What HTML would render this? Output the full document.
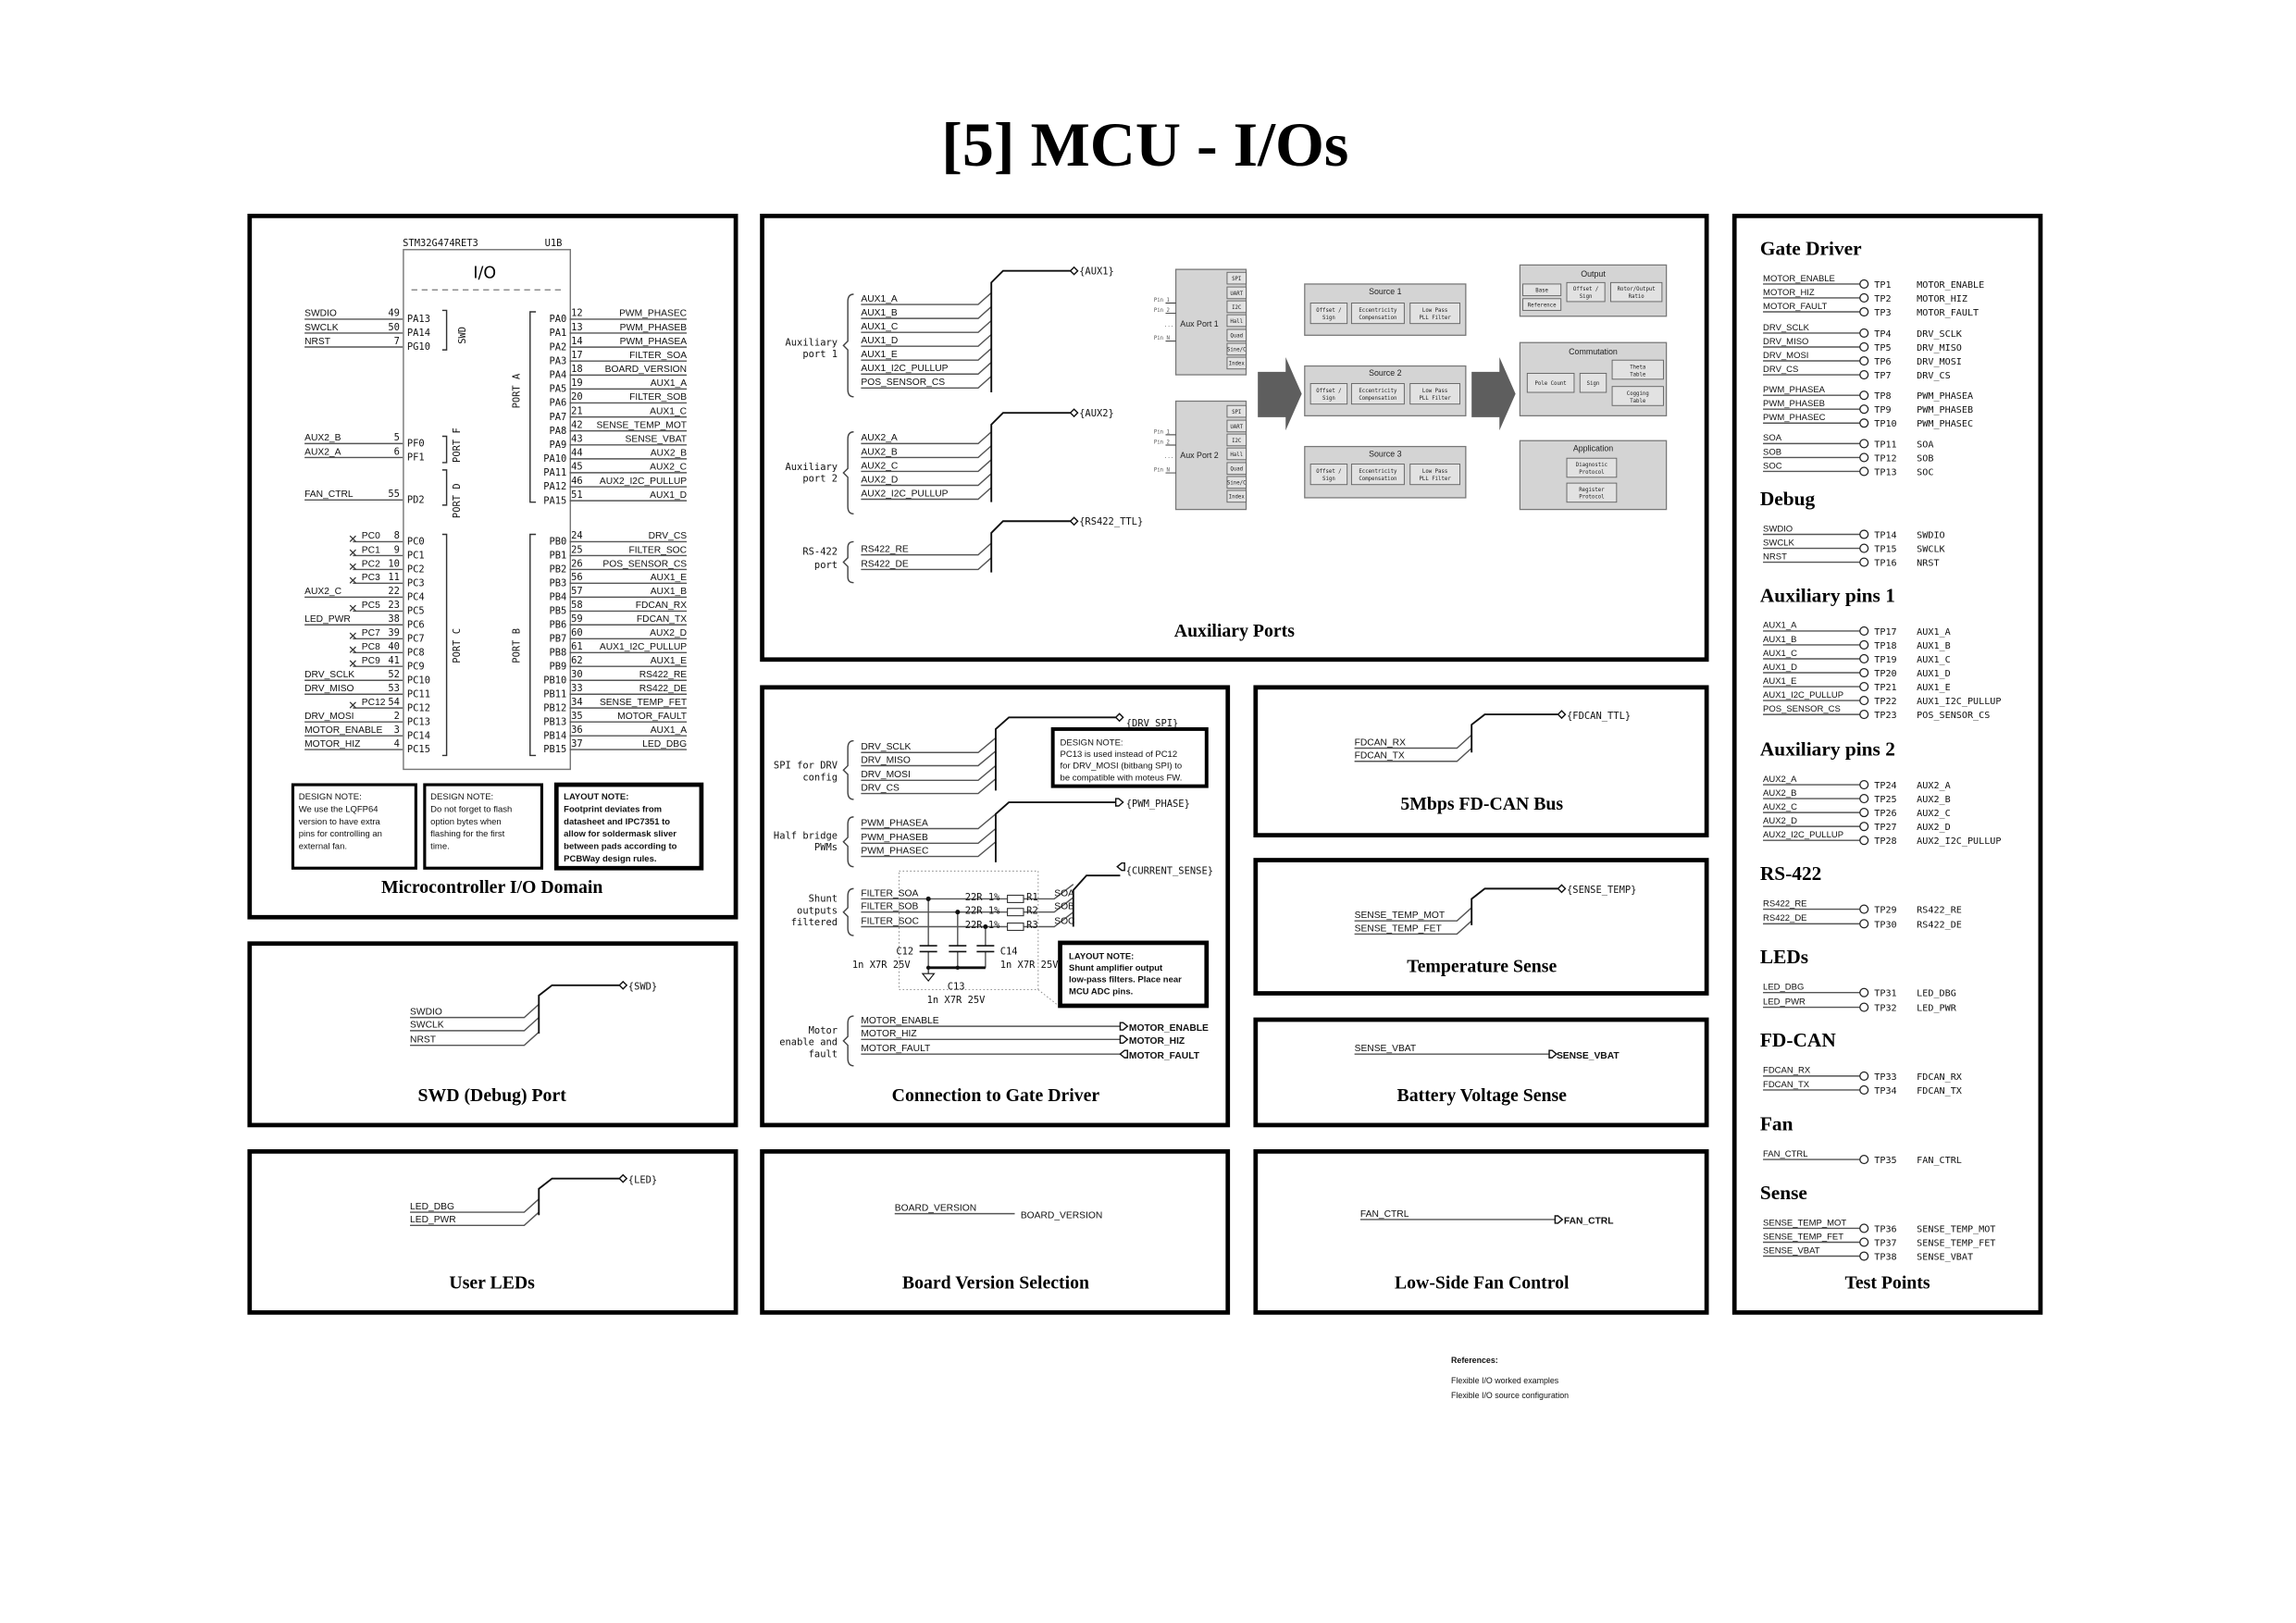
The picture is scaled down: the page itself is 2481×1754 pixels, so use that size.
<!DOCTYPE html>
<html><head><meta charset="utf-8"><style>
html,body{margin:0;padding:0;background:#fff}
svg{display:block}
.s{font-family:"Liberation Sans",sans-serif;font-size:6.5px;fill:#111}
.m{font-family:"DejaVu Sans Mono","Liberation Mono",monospace;font-size:6.6px;fill:#111}
.t{font-family:"Liberation Serif",serif;font-weight:bold;font-size:12.5px;fill:#000}
.h{font-family:"Liberation Serif",serif;font-weight:bold;font-size:13.5px;fill:#000}
.b{fill:none;stroke:#000;stroke-width:3}
.w{fill:none;stroke:#555;stroke-width:0.9}
.k{fill:none;stroke:#111;stroke-width:1.2}
.g{fill:#d4d4d4;stroke:#777;stroke-width:0.8}
.gb{fill:#e2e2e2;stroke:#666;stroke-width:0.6}
.tiny{font-family:"DejaVu Sans Mono",monospace;font-size:3.6px;fill:#222}
.ts{font-family:"Liberation Sans",sans-serif;font-size:5.6px;fill:#222}
.e{text-anchor:end}.c{text-anchor:middle}
</style></head><body>
<svg width="2481" height="1754" viewBox="0 0 1568 1108.6" preserveAspectRatio="none" xmlns="http://www.w3.org/2000/svg">
<rect width="1568" height="1109" fill="#fff"/>
<text x="782" y="113" class="c" style="font-family:'Liberation Serif',serif;font-weight:bold;font-size:43px">[5] MCU - I/Os</text>

<!-- boxes -->
<rect class="b" x="170.5" y="147.5" width="332" height="479"/>
<rect class="b" x="520.5" y="147.5" width="645" height="303"/>
<rect class="b" x="520.5" y="469.5" width="318" height="299"/>
<rect class="b" x="857.5" y="469.5" width="308" height="101"/>
<rect class="b" x="857.5" y="587.5" width="308" height="91"/>
<rect class="b" x="857.5" y="696.5" width="308" height="72"/>
<rect class="b" x="170.5" y="644.5" width="332" height="124"/>
<rect class="b" x="170.5" y="786.5" width="332" height="110"/>
<rect class="b" x="520.5" y="786.5" width="318" height="110"/>
<rect class="b" x="857.5" y="786.5" width="308" height="110"/>
<rect class="b" x="1184.5" y="147.5" width="209" height="749"/>

<!-- MCU -->
<text x="275" y="168" class="m">STM32G474RET3</text><text x="372" y="168" class="m">U1B</text>
<rect x="275.5" y="170.5" width="114" height="355" fill="none" stroke="#777" stroke-width="0.9"/>
<text x="331" y="190" class="c" style="font-family:'DejaVu Sans',sans-serif;font-size:11px">I/O</text>
<line x1="281" y1="198" x2="385" y2="198" stroke="#777" stroke-width="0.8" stroke-dasharray="4,3"/>
<g class="w">
<path d="M208 218H275M208 227.5H275M208 237H275M208 303H275M208 312.5H275M208 341.5H275"/>
<path d="M241 370H275M241 379.5H275M241 389H275M241 398.4H275M208 407.9H275M241 417.4H275M208 426.8H275M241 436.3H275M241 445.8H275M241 455.2H275M208 464.7H275M208 474.2H275M241 483.6H275M208 493.1H275M208 502.6H275M208 512H275"/>
<path d="M389 218H469M389 227.5H469M389 237.1H469M389 246.6H469M389 256.2H469M389 265.7H469M389 275.2H469M389 284.8H469M389 294.3H469M389 303.9H469M389 313.4H469M389 322.9H469M389 332.5H469M389 342H469"/>
<path d="M389 370H469M389 379.5H469M389 389H469M389 398.4H469M389 407.9H469M389 417.4H469M389 426.8H469M389 436.3H469M389 445.8H469M389 455.2H469M389 464.7H469M389 474.2H469M389 483.6H469M389 493.1H469M389 502.6H469M389 512H469"/>
<path d="M302 212H305V239H302M302 298H305V316H302M302 321H305V345H302M302 365H305V516H302M366 213H362V343H366M366 365H362V516H366" stroke="#333"/>
</g>
<g stroke="#333" stroke-width="0.8">
<path d="M239 366l4 4m0-4l-4 4M239 375.5l4 4m0-4l-4 4M239 385l4 4m0-4l-4 4M239 394.4l4 4m0-4l-4 4M239 413.4l4 4m0-4l-4 4M239 432.3l4 4m0-4l-4 4M239 441.8l4 4m0-4l-4 4M239 451.2l4 4m0-4l-4 4M239 479.6l4 4m0-4l-4 4"/>
</g>
<g class="m" transform="rotate(-90)">
<text x="-235" y="318">SWD</text><text x="-279" y="355">PORT A</text><text x="-316" y="314">PORT F</text><text x="-354" y="314">PORT D</text><text x="-453" y="314">PORT C</text><text x="-453" y="355">PORT B</text>
</g>
<g class="s">
<text x="208" y="216">SWDIO</text><text x="208" y="225.5">SWCLK</text><text x="208" y="235">NRST</text>
<text x="208" y="301">AUX2_B</text><text x="208" y="310.5">AUX2_A</text><text x="208" y="339.5">FAN_CTRL</text>
<text x="247" y="368">PC0</text><text x="247" y="377.5">PC1</text><text x="247" y="387">PC2</text><text x="247" y="396.4">PC3</text>
<text x="208" y="405.9">AUX2_C</text><text x="247" y="415.4">PC5</text><text x="208" y="424.8">LED_PWR</text>
<text x="247" y="434.3">PC7</text><text x="247" y="443.8">PC8</text><text x="247" y="453.2">PC9</text>
<text x="208" y="462.7">DRV_SCLK</text><text x="208" y="472.2">DRV_MISO</text><text x="247" y="481.6">PC12</text>
<text x="208" y="491.1">DRV_MOSI</text><text x="208" y="500.6">MOTOR_ENABLE</text><text x="208" y="510">MOTOR_HIZ</text>
</g>
<g class="s e">
<text x="469" y="216">PWM_PHASEC</text><text x="469" y="225.5">PWM_PHASEB</text><text x="469" y="235.1">PWM_PHASEA</text><text x="469" y="244.6">FILTER_SOA</text><text x="469" y="254.2">BOARD_VERSION</text><text x="469" y="263.7">AUX1_A</text><text x="469" y="273.2">FILTER_SOB</text><text x="469" y="282.8">AUX1_C</text><text x="469" y="292.3">SENSE_TEMP_MOT</text><text x="469" y="301.9">SENSE_VBAT</text><text x="469" y="311.4">AUX2_B</text><text x="469" y="320.9">AUX2_C</text><text x="469" y="330.5">AUX2_I2C_PULLUP</text><text x="469" y="340">AUX1_D</text>
<text x="469" y="368">DRV_CS</text><text x="469" y="377.5">FILTER_SOC</text><text x="469" y="387">POS_SENSOR_CS</text><text x="469" y="396.4">AUX1_E</text><text x="469" y="405.9">AUX1_B</text><text x="469" y="415.4">FDCAN_RX</text><text x="469" y="424.8">FDCAN_TX</text><text x="469" y="434.3">AUX2_D</text><text x="469" y="443.8">AUX1_I2C_PULLUP</text><text x="469" y="453.2">AUX1_E</text><text x="469" y="462.7">RS422_RE</text><text x="469" y="472.2">RS422_DE</text><text x="469" y="481.6">SENSE_TEMP_FET</text><text x="469" y="491.1">MOTOR_FAULT</text><text x="469" y="500.6">AUX1_A</text><text x="469" y="510">LED_DBG</text>
</g>
<g class="m e">
<text x="273" y="216">49</text><text x="273" y="225.5">50</text><text x="273" y="235">7</text><text x="273" y="301">5</text><text x="273" y="310.5">6</text><text x="273" y="339.5">55</text>
<text x="273" y="368">8</text><text x="273" y="377.5">9</text><text x="273" y="387">10</text><text x="273" y="396.4">11</text><text x="273" y="405.9">22</text><text x="273" y="415.4">23</text><text x="273" y="424.8">38</text><text x="273" y="434.3">39</text><text x="273" y="443.8">40</text><text x="273" y="453.2">41</text><text x="273" y="462.7">52</text><text x="273" y="472.2">53</text><text x="273" y="481.6">54</text><text x="273" y="491.1">2</text><text x="273" y="500.6">3</text><text x="273" y="510">4</text>
<text x="387" y="220">PA0</text><text x="387" y="229.5">PA1</text><text x="387" y="239.1">PA2</text><text x="387" y="248.6">PA3</text><text x="387" y="258.2">PA4</text><text x="387" y="267.7">PA5</text><text x="387" y="277.2">PA6</text><text x="387" y="286.8">PA7</text><text x="387" y="296.3">PA8</text><text x="387" y="305.9">PA9</text><text x="387" y="315.4">PA10</text><text x="387" y="324.9">PA11</text><text x="387" y="334.5">PA12</text><text x="387" y="344">PA15</text>
<text x="387" y="372">PB0</text><text x="387" y="381.5">PB1</text><text x="387" y="391">PB2</text><text x="387" y="400.4">PB3</text><text x="387" y="409.9">PB4</text><text x="387" y="419.4">PB5</text><text x="387" y="428.8">PB6</text><text x="387" y="438.3">PB7</text><text x="387" y="447.8">PB8</text><text x="387" y="457.2">PB9</text><text x="387" y="466.7">PB10</text><text x="387" y="476.2">PB11</text><text x="387" y="485.6">PB12</text><text x="387" y="495.1">PB13</text><text x="387" y="504.6">PB14</text><text x="387" y="514">PB15</text>
</g>
<g class="m">
<text x="278" y="220">PA13</text><text x="278" y="229.5">PA14</text><text x="278" y="239">PG10</text><text x="278" y="305">PF0</text><text x="278" y="314.5">PF1</text><text x="278" y="343.5">PD2</text>
<text x="278" y="372">PC0</text><text x="278" y="381.5">PC1</text><text x="278" y="391">PC2</text><text x="278" y="400.4">PC3</text><text x="278" y="409.9">PC4</text><text x="278" y="419.4">PC5</text><text x="278" y="428.8">PC6</text><text x="278" y="438.3">PC7</text><text x="278" y="447.8">PC8</text><text x="278" y="457.2">PC9</text><text x="278" y="466.7">PC10</text><text x="278" y="476.2">PC11</text><text x="278" y="485.6">PC12</text><text x="278" y="495.1">PC13</text><text x="278" y="504.6">PC14</text><text x="278" y="514">PC15</text>
<text x="390" y="216">12</text><text x="390" y="225.5">13</text><text x="390" y="235.1">14</text><text x="390" y="244.6">17</text><text x="390" y="254.2">18</text><text x="390" y="263.7">19</text><text x="390" y="273.2">20</text><text x="390" y="282.8">21</text><text x="390" y="292.3">42</text><text x="390" y="301.9">43</text><text x="390" y="311.4">44</text><text x="390" y="320.9">45</text><text x="390" y="330.5">46</text><text x="390" y="340">51</text>
<text x="390" y="368">24</text><text x="390" y="377.5">25</text><text x="390" y="387">26</text><text x="390" y="396.4">56</text><text x="390" y="405.9">57</text><text x="390" y="415.4">58</text><text x="390" y="424.8">59</text><text x="390" y="434.3">60</text><text x="390" y="443.8">61</text><text x="390" y="453.2">62</text><text x="390" y="462.7">30</text><text x="390" y="472.2">33</text><text x="390" y="481.6">34</text><text x="390" y="491.1">35</text><text x="390" y="500.6">36</text><text x="390" y="510">37</text>
</g>
<rect x="200" y="536" width="84" height="57" fill="none" stroke="#000" stroke-width="2"/>
<rect x="290" y="536" width="80" height="57" fill="none" stroke="#000" stroke-width="2"/>
<rect x="380" y="536" width="99" height="57" fill="none" stroke="#000" stroke-width="3"/>
<g class="s" style="font-size:6px">
<text x="204" y="546">DESIGN NOTE:</text><text x="204" y="554.5">We use the LQFP64</text><text x="204" y="563">version to have extra</text><text x="204" y="571.5">pins for controlling an</text><text x="204" y="580">external fan.</text>
<text x="294" y="546">DESIGN NOTE:</text><text x="294" y="554.5">Do not forget to flash</text><text x="294" y="563">option bytes when</text><text x="294" y="571.5">flashing for the first</text><text x="294" y="580">time.</text>
<g style="font-weight:bold"><text x="385" y="546">LAYOUT NOTE:</text><text x="385" y="554.5">Footprint deviates from</text><text x="385" y="563">datasheet and IPC7351 to</text><text x="385" y="571.5">allow for soldermask sliver</text><text x="385" y="580">between pads according to</text><text x="385" y="588.5">PCBWay design rules.</text></g>
</g>
<text x="336" y="610" class="t c">Microcontroller I/O Domain</text>

<!-- Aux ports -->
<g class="w">
<path d="M588 208H668l9-8M588 217.5H668l9-8M588 227H668l9-8M588 236.5H668l9-8M588 246H668l9-8M588 255.5H668l9-8M588 265H668l9-8"/>
<path d="M588 303H668l9-8M588 312.5H668l9-8M588 322H668l9-8M588 331.5H668l9-8M588 341H668l9-8"/>
<path d="M588 379H668l9-8M588 389H668l9-8"/>
<path d="M583 201q-4 0-4 5v27l-3 3 3 3v27q0 5 4 5M583 295q-4 0-4 5v20l-3 3 3 3v20q0 5 4 5M583 370q-4 0-4 4v7l-3 3 3 3v7q0 4 4 4" stroke="#444"/>
</g>
<g class="k">
<path d="M677 268V193l8-8H731M677 343V290l8-8H731M677 391V364l8-8H731"/>
</g>
<g fill="#fff" stroke="#111" stroke-width="0.9"><path d="M731 185l2.5-2.5 2.5 2.5-2.5 2.5zM731 282l2.5-2.5 2.5 2.5-2.5 2.5zM731 356l2.5-2.5 2.5 2.5-2.5 2.5z"/></g>
<g class="m"><text x="737" y="187.5">{AUX1}</text><text x="737" y="284.5">{AUX2}</text><text x="737" y="358.5">{RS422_TTL}</text></g>
<g class="s">
<text x="588" y="206">AUX1_A</text><text x="588" y="215.5">AUX1_B</text><text x="588" y="225">AUX1_C</text><text x="588" y="234.5">AUX1_D</text><text x="588" y="244">AUX1_E</text><text x="588" y="253.5">AUX1_I2C_PULLUP</text><text x="588" y="263">POS_SENSOR_CS</text>
<text x="588" y="301">AUX2_A</text><text x="588" y="310.5">AUX2_B</text><text x="588" y="320">AUX2_C</text><text x="588" y="329.5">AUX2_D</text><text x="588" y="339">AUX2_I2C_PULLUP</text>
<text x="588" y="377">RS422_RE</text><text x="588" y="387">RS422_DE</text>
</g>
<g class="m e"><text x="572" y="236">Auxiliary</text><text x="572" y="244">port 1</text><text x="572" y="321">Auxiliary</text><text x="572" y="329">port 2</text><text x="572" y="379">RS-422</text><text x="572" y="388">port</text></g>

<!-- aux port blocks -->
<g>
<rect class="g" x="803" y="184" width="48" height="72"/>
<rect class="g" x="803" y="274" width="48" height="74"/>
<g class="gb">
<rect x="838" y="186" width="13" height="8"/><rect x="838" y="196" width="13" height="8"/><rect x="838" y="205.5" width="13" height="8"/><rect x="838" y="215" width="13" height="8"/><rect x="838" y="225" width="13" height="8"/><rect x="838" y="234.5" width="13" height="8"/><rect x="838" y="244" width="13" height="8"/>
<rect x="838" y="277" width="13" height="8"/><rect x="838" y="287" width="13" height="8"/><rect x="838" y="296.5" width="13" height="8"/><rect x="838" y="306" width="13" height="8"/><rect x="838" y="316" width="13" height="8"/><rect x="838" y="325.5" width="13" height="8"/><rect x="838" y="335" width="13" height="8"/>
</g>
<g class="tiny c">
<text x="844.5" y="191.5">SPI</text><text x="844.5" y="201.5">UART</text><text x="844.5" y="211">I2C</text><text x="844.5" y="220.5">Hall</text><text x="844.5" y="230.5">Quad</text><text x="844.5" y="240">Sine/C</text><text x="844.5" y="249.5">Index</text>
<text x="844.5" y="282.5">SPI</text><text x="844.5" y="292.5">UART</text><text x="844.5" y="302">I2C</text><text x="844.5" y="311.5">Hall</text><text x="844.5" y="321.5">Quad</text><text x="844.5" y="331">Sine/C</text><text x="844.5" y="340.5">Index</text>
</g>
<text x="806" y="223" class="ts">Aux Port 1</text><text x="806" y="313" class="ts">Aux Port 2</text>
<g class="tiny" style="fill:#555"><text x="788" y="206">Pin 1</text><text x="788" y="213">Pin 2</text><text x="795" y="223">...</text><text x="788" y="232">Pin N</text>
<text x="788" y="296">Pin 1</text><text x="788" y="303">Pin 2</text><text x="795" y="313">...</text><text x="788" y="322">Pin N</text></g>
<path d="M796 207H803M796 214H803M796 233H803M796 297H803M796 304H803M796 323H803" stroke="#333" stroke-width="0.6"/>

<path d="M859 254H878V244L889 269 878 294V285H859Z" fill="#5e5e5e"/>
<path d="M1005 254H1024V244L1035 269 1024 294V285H1005Z" fill="#5e5e5e"/>

<rect class="g" x="891" y="194" width="110" height="35"/>
<rect class="g" x="891" y="250" width="110" height="34"/>
<rect class="g" x="891" y="305" width="110" height="35"/>
<g class="gb">
<rect x="895" y="207" width="25" height="14"/><rect x="923" y="207" width="36" height="14"/><rect x="963" y="207" width="34" height="14"/>
<rect x="895" y="262" width="25" height="14"/><rect x="923" y="262" width="36" height="14"/><rect x="963" y="262" width="34" height="14"/>
<rect x="895" y="317" width="25" height="14"/><rect x="923" y="317" width="36" height="14"/><rect x="963" y="317" width="34" height="14"/>
</g>
<g class="ts c"><text x="946" y="201">Source 1</text><text x="946" y="256.5">Source 2</text><text x="946" y="312">Source 3</text></g>
<g class="tiny c">
<text x="907.5" y="213">Offset /</text><text x="907.5" y="218">Sign</text><text x="941" y="213">Eccentricity</text><text x="941" y="218">Compensation</text><text x="980" y="213">Low Pass</text><text x="980" y="218">PLL Filter</text>
<text x="907.5" y="268">Offset /</text><text x="907.5" y="273">Sign</text><text x="941" y="268">Eccentricity</text><text x="941" y="273">Compensation</text><text x="980" y="268">Low Pass</text><text x="980" y="273">PLL Filter</text>
<text x="907.5" y="323">Offset /</text><text x="907.5" y="328">Sign</text><text x="941" y="323">Eccentricity</text><text x="941" y="328">Compensation</text><text x="980" y="323">Low Pass</text><text x="980" y="328">PLL Filter</text>
</g>
<rect class="g" x="1038" y="181" width="100" height="35"/>
<rect class="g" x="1038" y="234" width="100" height="50"/>
<rect class="g" x="1038" y="301" width="100" height="47"/>
<g class="gb">
<rect x="1040" y="194" width="26" height="8"/><rect x="1040" y="204" width="26" height="8"/><rect x="1070" y="193" width="26" height="13"/><rect x="1100" y="193" width="35" height="13"/>
<rect x="1043" y="255" width="32" height="13"/><rect x="1079" y="255" width="18" height="13"/><rect x="1101" y="246" width="35" height="13"/><rect x="1101" y="264" width="35" height="13"/>
<rect x="1070" y="313" width="34" height="13"/><rect x="1070" y="330" width="34" height="13"/>
</g>
<g class="ts c"><text x="1088" y="189">Output</text><text x="1088" y="242">Commutation</text><text x="1088" y="308">Application</text></g>
<g class="tiny c">
<text x="1053" y="199.5">Base</text><text x="1053" y="209.5">Reference</text><text x="1083" y="198.5">Offset /</text><text x="1083" y="203.5">Sign</text><text x="1117.5" y="198.5">Rotor/Output</text><text x="1117.5" y="203.5">Ratio</text>
<text x="1059" y="263">Pole Count</text><text x="1088" y="263">Sign</text><text x="1118.5" y="252">Theta</text><text x="1118.5" y="257">Table</text><text x="1118.5" y="270">Cogging</text><text x="1118.5" y="275">Table</text>
<text x="1087" y="318.5">Diagnostic</text><text x="1087" y="323.5">Protocol</text><text x="1087" y="335.5">Register</text><text x="1087" y="340.5">Protocol</text>
</g>
</g>
<text x="843" y="435" class="t c">Auxiliary Ports</text>

<!-- Gate driver -->
<g class="w">
<path d="M588 514H668l12-10M588 523H668l12-10M588 533H668l12-10M588 542H668l12-10"/>
<path d="M588 566H668l12-10M588 576H668l12-10M588 585H668l12-10"/>
<path d="M588 614H688M699 614H720l13-10M588 623H688M699 623H720l13-10M588 633H688M699 633H720l13-10"/>
<path d="M588 701H765M588 710H765M588 720H765"/>
<path d="M583 506q-4 0-4 5v12l-3 3 3 3v12q0 5 4 5M583 558q-4 0-4 5v9l-3 3 3 3v9q0 5 4 5M583 607q-4 0-4 5v8l-3 3 3 3v8q0 5 4 5M583 694q-4 0-4 5v9l-3 3 3 3v9q0 5 4 5" stroke="#444"/>
<path d="M634 614V646M654 623V646M673 633V646M634 650V661M654 650V661M673 650V661"/>
</g>
<g class="k">
<path d="M680 540V498l9-8H762M680 589V556l9-8H762M733 633V608l9-10H765"/>
<path d="M628 646H640M628 650H640M648 646H660M648 650H660M667 646H679M667 650H679" stroke-width="1"/>
<path d="M634 661H673" stroke-width="1.8"/>
<path d="M634 661V665M630 665H638L634 670Z" stroke-width="0.7" fill="none"/>
</g>
<g fill="#111"><circle cx="634" cy="614" r="1.6"/><circle cx="654" cy="623" r="1.6"/><circle cx="673" cy="633" r="1.6"/><circle cx="634" cy="661" r="1.4"/><circle cx="654" cy="661" r="1.4"/></g>
<g fill="#fff" stroke="#333" stroke-width="0.7"><rect x="688" y="611.5" width="11" height="5"/><rect x="688" y="620.5" width="11" height="5"/><rect x="688" y="630.5" width="11" height="5"/></g>
<rect x="614" y="595" width="95" height="81" fill="none" stroke="#888" stroke-width="0.6" stroke-dasharray="1,1.5"/>
<path d="M709 676L723 687" stroke="#888" stroke-width="0.6" stroke-dasharray="1,1.5"/>
<g fill="#fff" stroke="#111" stroke-width="0.9">
<path d="M762 490l2.5-2.5 2.5 2.5-2.5 2.5z"/><path d="M762 545.5h2l3 2.5-3 2.5h-2z"/><path d="M768 592.5h-2l-3 2.5 3 2.5h2z" transform="translate(0,-3)"/>
<path d="M765 698.5h2l3 2.5-3 2.5h-2zM765 707.5h2l3 2.5-3 2.5h-2zM770 717.5h-2l-3 2.5 3 2.5h2z"/>
</g>
<g class="m"><text x="769" y="496">{DRV_SPI}</text><text x="769" y="551">{PWM_PHASE}</text><text x="769" y="597">{CURRENT_SENSE}</text>
<text x="659" y="615">22R 1%</text><text x="659" y="624">22R 1%</text><text x="659" y="634">22R 1%</text><text x="701" y="615">R1</text><text x="701" y="624">R2</text><text x="701" y="634">R3</text>
<text x="612" y="652">C12</text><text x="582" y="661">1n X7R 25V</text><text x="683" y="652">C14</text><text x="683" y="661">1n X7R 25V</text><text x="647" y="676">C13</text><text x="633" y="685">1n X7R 25V</text>
</g>
<g class="m e"><text x="572" y="525">SPI for DRV</text><text x="572" y="533">config</text><text x="572" y="573">Half bridge</text><text x="572" y="581">PWMs</text><text x="572" y="616">Shunt</text><text x="572" y="624">outputs</text><text x="572" y="632">filtered</text><text x="572" y="706">Motor</text><text x="572" y="714">enable and</text><text x="572" y="722">fault</text></g>
<g class="s">
<text x="588" y="512">DRV_SCLK</text><text x="588" y="521">DRV_MISO</text><text x="588" y="531">DRV_MOSI</text><text x="588" y="540">DRV_CS</text>
<text x="588" y="564">PWM_PHASEA</text><text x="588" y="574">PWM_PHASEB</text><text x="588" y="583">PWM_PHASEC</text>
<text x="588" y="612">FILTER_SOA</text><text x="588" y="621">FILTER_SOB</text><text x="588" y="631">FILTER_SOC</text>
<text x="720" y="612">SOA</text><text x="720" y="621">SOB</text><text x="720" y="631">SOC</text>
<text x="588" y="699">MOTOR_ENABLE</text><text x="588" y="708">MOTOR_HIZ</text><text x="588" y="718">MOTOR_FAULT</text>
<g style="font-weight:bold"><text x="771" y="704">MOTOR_ENABLE</text><text x="771" y="713">MOTOR_HIZ</text><text x="771" y="723">MOTOR_FAULT</text></g>
</g>
<rect x="719" y="498" width="105" height="39" fill="none" stroke="#000" stroke-width="2.5"/>
<rect x="724" y="644" width="100" height="43" fill="none" stroke="#000" stroke-width="3"/>
<g class="s" style="font-size:6px">
<text x="724" y="509">DESIGN NOTE:</text><text x="724" y="517">PC13 is used instead of PC12</text><text x="724" y="525">for DRV_MOSI (bitbang SPI) to</text><text x="724" y="533">be compatible with moteus FW.</text>
<g style="font-weight:bold"><text x="730" y="655">LAYOUT NOTE:</text><text x="730" y="663">Shunt amplifier output</text><text x="730" y="671">low-pass filters. Place near</text><text x="730" y="679">MCU ADC pins.</text></g>
</g>
<text x="680" y="752" class="t c">Connection to Gate Driver</text>

<!-- FD-CAN -->
<g class="w"><path d="M925 511H995l10-9M925 520H995l10-9"/></g>
<g class="k"><path d="M1005 514V495l9-7H1064"/></g>
<path d="M1064 488l2.5-2.5 2.5 2.5-2.5 2.5z" fill="#fff" stroke="#111" stroke-width="0.9"/>
<text x="1070" y="491" class="m">{FDCAN_TTL}</text>
<g class="s"><text x="925" y="509">FDCAN_RX</text><text x="925" y="518">FDCAN_TX</text></g>
<text x="1012" y="553" class="t c">5Mbps FD-CAN Bus</text>

<!-- Temp -->
<g class="w"><path d="M925 629H995l10-9M925 638H995l10-9"/></g>
<g class="k"><path d="M1005 632V614l9-7H1064"/></g>
<path d="M1064 607l2.5-2.5 2.5 2.5-2.5 2.5z" fill="#fff" stroke="#111" stroke-width="0.9"/>
<text x="1070" y="610" class="m">{SENSE_TEMP}</text>
<g class="s"><text x="925" y="627">SENSE_TEMP_MOT</text><text x="925" y="636">SENSE_TEMP_FET</text></g>
<text x="1012" y="664" class="t c">Temperature Sense</text>

<!-- Battery -->
<path d="M925 720H1058" class="w"/>
<path d="M1058 717.5h2l3 2.5-3 2.5h-2z" fill="#fff" stroke="#111" stroke-width="0.9"/>
<text x="925" y="718" class="s">SENSE_VBAT</text><text x="1063" y="723" class="s" style="font-weight:bold">SENSE_VBAT</text>
<text x="1012" y="752" class="t c">Battery Voltage Sense</text>

<!-- SWD -->
<g class="w"><path d="M280 695H358l10-9M280 704H358l10-9M280 714H358l10-9"/></g>
<g class="k"><path d="M368 706V680l9-7H423"/></g>
<path d="M423 673l2.5-2.5 2.5 2.5-2.5 2.5z" fill="#fff" stroke="#111" stroke-width="0.9"/>
<text x="429" y="676" class="m">{SWD}</text>
<g class="s"><text x="280" y="693">SWDIO</text><text x="280" y="702">SWCLK</text><text x="280" y="712">NRST</text></g>
<text x="336" y="752" class="t c">SWD (Debug) Port</text>

<!-- LEDs -->
<g class="w"><path d="M280 828H358l10-9M280 837H358l10-9"/></g>
<g class="k"><path d="M368 830V812l9-7H423"/></g>
<path d="M423 805l2.5-2.5 2.5 2.5-2.5 2.5z" fill="#fff" stroke="#111" stroke-width="0.9"/>
<text x="429" y="808" class="m">{LED}</text>
<g class="s"><text x="280" y="826">LED_DBG</text><text x="280" y="835">LED_PWR</text></g>
<text x="336" y="880" class="t c">User LEDs</text>

<!-- Board version -->
<path d="M611 829H693" class="w"/>
<text x="611" y="827" class="s">BOARD_VERSION</text><text x="697" y="832" class="s">BOARD_VERSION</text>
<text x="680" y="880" class="t c">Board Version Selection</text>

<!-- Fan -->
<path d="M929 833H1062" class="w"/>
<path d="M1062 830.5h2l3 2.5-3 2.5h-2z" fill="#fff" stroke="#111" stroke-width="0.9"/>
<text x="929" y="831" class="s">FAN_CTRL</text><text x="1068" y="836" class="s" style="font-weight:bold">FAN_CTRL</text>
<text x="1012" y="880" class="t c">Low-Side Fan Control</text>

<!-- Test points -->
<g class="h">
<text x="1202" y="174">Gate Driver</text><text x="1202" y="345">Debug</text><text x="1202" y="411">Auxiliary pins 1</text><text x="1202" y="516">Auxiliary pins 2</text><text x="1202" y="601">RS-422</text><text x="1202" y="658">LEDs</text><text x="1202" y="715">FD-CAN</text><text x="1202" y="772">Fan</text><text x="1202" y="819">Sense</text>
</g>
<g class="w" stroke="#333">
<path d="M1204 194H1270M1204 203.5H1270M1204 213H1270M1204 227.5H1270M1204 237H1270M1204 246.5H1270M1204 256H1270M1204 270H1270M1204 279.5H1270M1204 289H1270M1204 303H1270M1204 312.5H1270M1204 322H1270M1204 365H1270M1204 374.5H1270M1204 384H1270M1204 431H1270M1204 440.5H1270M1204 450H1270M1204 459.5H1270M1204 469H1270M1204 478.5H1270M1204 488H1270M1204 536H1270M1204 545.5H1270M1204 555H1270M1204 564.5H1270M1204 574H1270M1204 621H1270M1204 631H1270M1204 678H1270M1204 688H1270M1204 735H1270M1204 744.5H1270M1204 792H1270M1204 839H1270M1204 848.5H1270M1204 858H1270"/>
</g>
<g fill="#fff" stroke="#222" stroke-width="0.8">
<circle cx="1273" cy="194" r="2.8"/><circle cx="1273" cy="203.5" r="2.8"/><circle cx="1273" cy="213" r="2.8"/><circle cx="1273" cy="227.5" r="2.8"/><circle cx="1273" cy="237" r="2.8"/><circle cx="1273" cy="246.5" r="2.8"/><circle cx="1273" cy="256" r="2.8"/><circle cx="1273" cy="270" r="2.8"/><circle cx="1273" cy="279.5" r="2.8"/><circle cx="1273" cy="289" r="2.8"/><circle cx="1273" cy="303" r="2.8"/><circle cx="1273" cy="312.5" r="2.8"/><circle cx="1273" cy="322" r="2.8"/><circle cx="1273" cy="365" r="2.8"/><circle cx="1273" cy="374.5" r="2.8"/><circle cx="1273" cy="384" r="2.8"/><circle cx="1273" cy="431" r="2.8"/><circle cx="1273" cy="440.5" r="2.8"/><circle cx="1273" cy="450" r="2.8"/><circle cx="1273" cy="459.5" r="2.8"/><circle cx="1273" cy="469" r="2.8"/><circle cx="1273" cy="478.5" r="2.8"/><circle cx="1273" cy="488" r="2.8"/><circle cx="1273" cy="536" r="2.8"/><circle cx="1273" cy="545.5" r="2.8"/><circle cx="1273" cy="555" r="2.8"/><circle cx="1273" cy="564.5" r="2.8"/><circle cx="1273" cy="574" r="2.8"/><circle cx="1273" cy="621" r="2.8"/><circle cx="1273" cy="631" r="2.8"/><circle cx="1273" cy="678" r="2.8"/><circle cx="1273" cy="688" r="2.8"/><circle cx="1273" cy="735" r="2.8"/><circle cx="1273" cy="744.5" r="2.8"/><circle cx="1273" cy="792" r="2.8"/><circle cx="1273" cy="839" r="2.8"/><circle cx="1273" cy="848.5" r="2.8"/><circle cx="1273" cy="858" r="2.8"/>
</g>
<g class="s" style="font-size:6px">
<text x="1204" y="192">MOTOR_ENABLE</text><text x="1204" y="201.5">MOTOR_HIZ</text><text x="1204" y="211">MOTOR_FAULT</text><text x="1204" y="225.5">DRV_SCLK</text><text x="1204" y="235">DRV_MISO</text><text x="1204" y="244.5">DRV_MOSI</text><text x="1204" y="254">DRV_CS</text><text x="1204" y="268">PWM_PHASEA</text><text x="1204" y="277.5">PWM_PHASEB</text><text x="1204" y="287">PWM_PHASEC</text><text x="1204" y="301">SOA</text><text x="1204" y="310.5">SOB</text><text x="1204" y="320">SOC</text>
<text x="1204" y="363">SWDIO</text><text x="1204" y="372.5">SWCLK</text><text x="1204" y="382">NRST</text>
<text x="1204" y="429">AUX1_A</text><text x="1204" y="438.5">AUX1_B</text><text x="1204" y="448">AUX1_C</text><text x="1204" y="457.5">AUX1_D</text><text x="1204" y="467">AUX1_E</text><text x="1204" y="476.5">AUX1_I2C_PULLUP</text><text x="1204" y="486">POS_SENSOR_CS</text>
<text x="1204" y="534">AUX2_A</text><text x="1204" y="543.5">AUX2_B</text><text x="1204" y="553">AUX2_C</text><text x="1204" y="562.5">AUX2_D</text><text x="1204" y="572">AUX2_I2C_PULLUP</text>
<text x="1204" y="619">RS422_RE</text><text x="1204" y="629">RS422_DE</text><text x="1204" y="676">LED_DBG</text><text x="1204" y="686">LED_PWR</text><text x="1204" y="733">FDCAN_RX</text><text x="1204" y="742.5">FDCAN_TX</text><text x="1204" y="790">FAN_CTRL</text>
<text x="1204" y="837">SENSE_TEMP_MOT</text><text x="1204" y="846.5">SENSE_TEMP_FET</text><text x="1204" y="856">SENSE_VBAT</text>
</g>
<g class="m" style="font-size:6.4px">
<text x="1280" y="196.5">TP1</text><text x="1280" y="206">TP2</text><text x="1280" y="215.5">TP3</text><text x="1280" y="230">TP4</text><text x="1280" y="239.5">TP5</text><text x="1280" y="249">TP6</text><text x="1280" y="258.5">TP7</text><text x="1280" y="272.5">TP8</text><text x="1280" y="282">TP9</text><text x="1280" y="291.5">TP10</text><text x="1280" y="305.5">TP11</text><text x="1280" y="315">TP12</text><text x="1280" y="324.5">TP13</text>
<text x="1280" y="367.5">TP14</text><text x="1280" y="377">TP15</text><text x="1280" y="386.5">TP16</text>
<text x="1280" y="433.5">TP17</text><text x="1280" y="443">TP18</text><text x="1280" y="452.5">TP19</text><text x="1280" y="462">TP20</text><text x="1280" y="471.5">TP21</text><text x="1280" y="481">TP22</text><text x="1280" y="490.5">TP23</text>
<text x="1280" y="538.5">TP24</text><text x="1280" y="548">TP25</text><text x="1280" y="557.5">TP26</text><text x="1280" y="567">TP27</text><text x="1280" y="576.5">TP28</text>
<text x="1280" y="623.5">TP29</text><text x="1280" y="633.5">TP30</text><text x="1280" y="680.5">TP31</text><text x="1280" y="690.5">TP32</text><text x="1280" y="737.5">TP33</text><text x="1280" y="747">TP34</text><text x="1280" y="794.5">TP35</text>
<text x="1280" y="841.5">TP36</text><text x="1280" y="851">TP37</text><text x="1280" y="860.5">TP38</text>
<text x="1309" y="196.5">MOTOR_ENABLE</text><text x="1309" y="206">MOTOR_HIZ</text><text x="1309" y="215.5">MOTOR_FAULT</text><text x="1309" y="230">DRV_SCLK</text><text x="1309" y="239.5">DRV_MISO</text><text x="1309" y="249">DRV_MOSI</text><text x="1309" y="258.5">DRV_CS</text><text x="1309" y="272.5">PWM_PHASEA</text><text x="1309" y="282">PWM_PHASEB</text><text x="1309" y="291.5">PWM_PHASEC</text><text x="1309" y="305.5">SOA</text><text x="1309" y="315">SOB</text><text x="1309" y="324.5">SOC</text>
<text x="1309" y="367.5">SWDIO</text><text x="1309" y="377">SWCLK</text><text x="1309" y="386.5">NRST</text>
<text x="1309" y="433.5">AUX1_A</text><text x="1309" y="443">AUX1_B</text><text x="1309" y="452.5">AUX1_C</text><text x="1309" y="462">AUX1_D</text><text x="1309" y="471.5">AUX1_E</text><text x="1309" y="481">AUX1_I2C_PULLUP</text><text x="1309" y="490.5">POS_SENSOR_CS</text>
<text x="1309" y="538.5">AUX2_A</text><text x="1309" y="548">AUX2_B</text><text x="1309" y="557.5">AUX2_C</text><text x="1309" y="567">AUX2_D</text><text x="1309" y="576.5">AUX2_I2C_PULLUP</text>
<text x="1309" y="623.5">RS422_RE</text><text x="1309" y="633.5">RS422_DE</text><text x="1309" y="680.5">LED_DBG</text><text x="1309" y="690.5">LED_PWR</text><text x="1309" y="737.5">FDCAN_RX</text><text x="1309" y="747">FDCAN_TX</text><text x="1309" y="794.5">FAN_CTRL</text>
<text x="1309" y="841.5">SENSE_TEMP_MOT</text><text x="1309" y="851">SENSE_TEMP_FET</text><text x="1309" y="860.5">SENSE_VBAT</text>
</g>
<text x="1289" y="880" class="t c">Test Points</text>

<!-- references -->
<g class="s" style="font-size:5.6px">
<text x="991" y="931" style="font-weight:bold">References:</text>
<text x="991" y="945">Flexible I/O worked examples</text>
<text x="991" y="955">Flexible I/O source configuration</text>
</g>
</svg>
</body></html>
